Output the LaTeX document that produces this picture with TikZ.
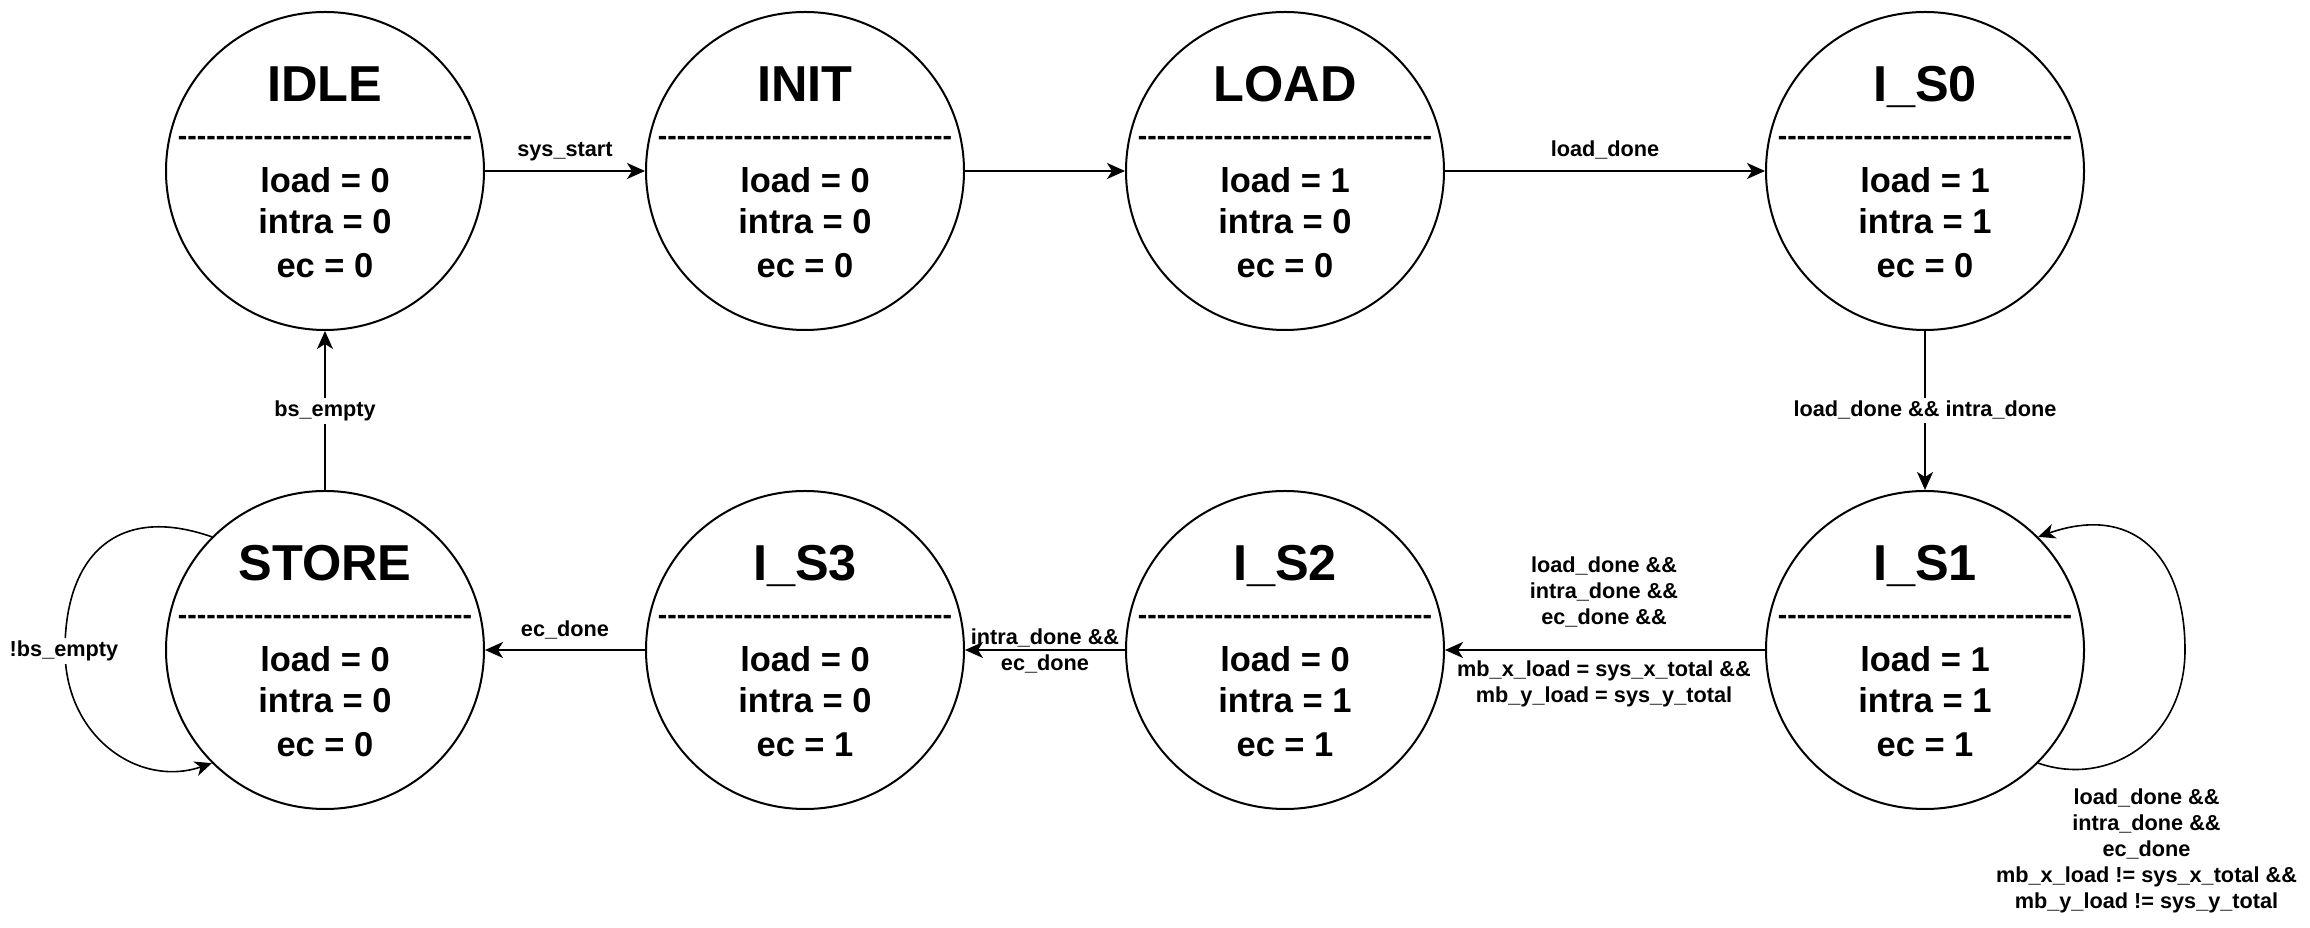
\documentclass[tikz,border=0pt]{standalone}
\usepackage{fontspec}
\setmainfont{Liberation Sans}
\usetikzlibrary{arrows.meta,calc}
\tikzset{
  statecirc/.style={circle, draw, line width=2pt, minimum size=318pt, inner sep=0pt},
  sttitle/.style={font=\fontsize{50.5}{60}\selectfont\bfseries, anchor=base, inner sep=0pt},
  stdash/.style={font=\fontsize{28.5}{34}\selectfont\bfseries, anchor=base, inner sep=0pt},
  stbody/.style={font=\fontsize{34.5}{41}\selectfont\bfseries, anchor=base, inner sep=0pt},
  edge/.style={line width=2pt, -{Stealth[length=18pt,width=16pt,inset=5pt]}},
  loopedge/.style={line width=1.6pt, -{Stealth[length=17pt,width=15pt,inset=5pt]}},
  elabel/.style={font=\fontsize{21.7}{26}\selectfont\bfseries, inner sep=0pt, align=center},
  ebg/.style={fill=white, inner xsep=2pt, inner ysep=3pt},
}
\newcommand\dashrow{-{}-{}-{}-{}-{}-{}-{}-{}-{}-{}-{}-{}-{}-{}-{}-{}-{}-{}-{}-{}-{}-{}-{}-{}-{}-{}-{}-{}-{}-{}-}
\newcommand\fsmstate[7]{%
  \node[statecirc] (#1) at (#2,#3) {};
  \node[sttitle] (#1-t) at ($(#1.center)+(0,69.3)$) {#4};
  \node[stdash] (#1-d) at ($(#1.center)+(0,25.7)$) {\dashrow};
  \node[stbody] (#1-l) at ($(#1.center)+(0,-21.7)$) {load = #5};
  \node[stbody] (#1-i) at ($(#1.center)+(0,-62.3)$) {intra = #6};
  \node[stbody] (#1-e) at ($(#1.center)+(0,-106.7)$) {ec = #7};
}
\begin{document}
\begin{tikzpicture}[x=1pt,y=1pt]
  \fill[white] (0,0) rectangle (2310,928);
  \useasboundingbox (0,0) rectangle (2310,928);

  \fsmstate{idle}{325}{757}{IDLE}{0}{0}{0}
  \fsmstate{init}{805}{757}{INIT}{0}{0}{0}
  \fsmstate{load}{1285}{757}{LOAD}{1}{0}{0}
  \fsmstate{is0}{1925}{757}{I\_S0}{1}{1}{0}
  \fsmstate{store}{325}{278}{STORE}{0}{0}{0}
  \fsmstate{is3}{805}{278}{I\_S3}{0}{0}{1}
  \fsmstate{is2}{1285}{278}{I\_S2}{0}{1}{1}
  \fsmstate{is1}{1925}{278}{I\_S1}{1}{1}{1}

  \draw[edge] (idle) -- (init);
  \draw[edge] (init) -- (load);
  \draw[edge] (load) -- (is0);
  \draw[edge] (is0) -- (is1);
  \draw[edge] (is1) -- (is2);
  \draw[edge] (is2) -- (is3);
  \draw[edge] (is3) -- (store);
  \draw[edge] (store) -- (idle);

  \coordinate (s1r) at (2185,278);
  \draw[loopedge] (is1.-45) .. controls (2110,140) and (2185,190) .. (s1r)
                            .. controls (2185,370) and (2135,425) .. (is1.45);
  \coordinate (stl) at (65,278);
  \draw[loopedge] (store.135) .. controls (115,425) and (65,370) .. (stl)
                              .. controls (65,190) and (140,140) .. (store.225);

  \node[elabel, anchor=base] (lsys) at (565,771) {sys\_start};
  \node[elabel, anchor=base] (lld) at (1605,771) {load\_done};
  \node[elabel, ebg, anchor=base] (lli) at (1925,511) {load\_done \&\& intra\_done};
  \node[elabel, ebg, anchor=base] (lbs) at (325,511) {bs\_empty};
  \node[elabel] (l12a) at (1604,336) {load\_done \&\&\\intra\_done \&\&\\ec\_done \&\&};
  \node[elabel] (l12b) at (1604,244) {mb\_x\_load = sys\_x\_total \&\&\\mb\_y\_load = sys\_y\_total};
  \node[elabel] (l23) at (1045,276.6) {intra\_done \&\&\\ec\_done};
  \node[elabel, anchor=base] (l3s) at (565,291.3) {ec\_done};
  \node[elabel, ebg, anchor=base] (lnbs) at (64,271.3) {!bs\_empty};
  \node[elabel] (l11) at (2146.5,77) {load\_done \&\&\\intra\_done \&\&\\ec\_done\\mb\_x\_load != sys\_x\_total \&\&\\mb\_y\_load != sys\_y\_total};
\end{tikzpicture}
\end{document}
